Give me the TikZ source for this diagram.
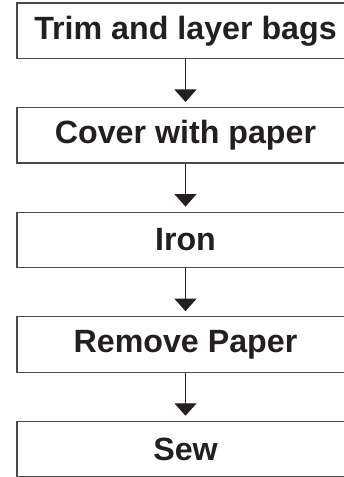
\documentclass[tikz,border=0pt]{standalone}
\usepackage{fontspec}
\setmainfont{Liberation Sans}
\usetikzlibrary{arrows.meta,calc}
\definecolor{ink}{HTML}{231F20}
\definecolor{frame}{HTML}{4A4A4A}
\begin{document}
\begin{tikzpicture}[x=1pt,y=-1pt,
  stepbox/.style={draw=frame,line width=1.3pt,rectangle,minimum width=337pt,minimum height=55.5pt,inner sep=0pt,text=ink,font=\fontsize{32.2}{35}\selectfont\bfseries},
  flow/.style={draw=ink,line width=1.4pt,-{Triangle[width=22pt,length=12.5pt]}}]
\useasboundingbox (0,0) rectangle (344,477);
\node[stepbox] (b1) at (185.5,30.75) {Trim and layer bags};
\node[stepbox] (b2) at (185.5,135.35) {Cover with paper};
\node[stepbox] (b3) at (185.5,239.95) {Iron};
\node[stepbox] (b4) at (185.5,344.55) {Remove Paper};
\node[stepbox] (b5) at (185.5,449.15) {Sew};
\draw[flow] (b1.south) -- ($(b2.north)+(0,-5)$);
\draw[flow] (b2.south) -- ($(b3.north)+(0,-5)$);
\draw[flow] (b3.south) -- ($(b4.north)+(0,-5)$);
\draw[flow] (b4.south) -- ($(b5.north)+(0,-5)$);
\end{tikzpicture}
\end{document}
